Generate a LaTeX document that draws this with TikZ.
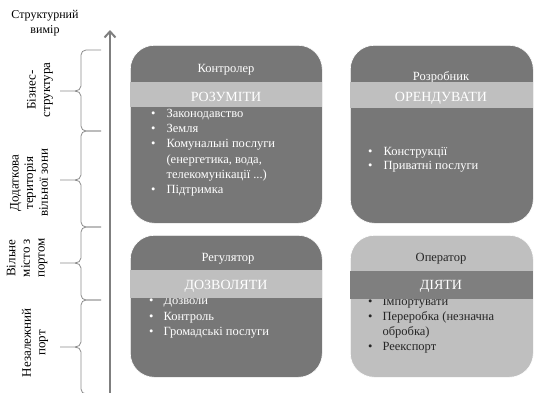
\documentclass[tikz,border=0pt]{standalone}
\usepackage{fontspec}
\setmainfont{Liberation Serif}
\usetikzlibrary{arrows.meta}
\definecolor{boxdark}{HTML}{777777}
\definecolor{boxlight}{HTML}{BFBFBF}
\definecolor{banddark}{HTML}{7F7F7F}
\definecolor{axisgray}{HTML}{7F7F7F}
\definecolor{bracegray}{HTML}{8C8C8C}
\definecolor{darktext}{HTML}{262626}
\begin{document}
\begin{tikzpicture}[x=1pt,y=-1pt,
  card/.style={rectangle, rounded corners=24pt, inner sep=0pt, anchor=north west, draw=white, line width=0.6pt},
  band/.style={rectangle, inner sep=0pt, anchor=north west},
  boxtitle/.style={anchor=base, inner sep=0pt, font=\fontsize{12.5}{15}\selectfont},
  bandtext/.style={anchor=base, inner sep=0pt, text=white, font=\fontsize{14}{16}\selectfont},
  blist/.style={anchor=base west, inner sep=0pt},
  sidelabel/.style={rotate=90, align=center, inner sep=0pt, font=\fontsize{13}{14.6}\selectfont},
  bracepath/.style={draw=bracegray, line width=0.8pt},
  axisline/.style={draw=axisgray, line width=2.4pt, -{Straight Barb[length=6pt,width=11pt,line width=2pt]}}
]
\useasboundingbox (0,0) rectangle (539,392);

% title of axis
\node[align=center, inner sep=0pt, font=\fontsize{12}{15}\selectfont] (axtitle) at (45,23) {Структурний\\вимір};

% axis
\coordinate (axb) at (110,395);
\coordinate (axt) at (110,30);
\draw[axisline] (axb) -- (axt);

% braces
\foreach \ya/\ym/\yb in {50/91/131, 131/180/227, 227/263/300, 300/347/394}{
  \draw[bracepath] (101,\ya) -- (86,\ya) to[out=180,in=90] (81,{\ya+5}) -- (81,{\ym-5})
     to[out=-90,in=0] (75,\ym) -- (60,\ym);
  \draw[bracepath] (75,\ym) to[out=0,in=90] (81,{\ym+5}) -- (81,{\yb-5})
     to[out=-90,in=180] (86,\yb) -- (101,\yb);
}

% side labels
\node[sidelabel] (l1) at (40,90) {Бізнес-\\структура};
\node[sidelabel] (l2) at (29,183) {Додаткова\\територія\\вільної зони};
\node[sidelabel] (l3) at (27,258) {Вільне\\місто з\\портом};
\node[sidelabel] (l4) at (35,343) {Незалежний\\порт};

% ---- box 1: Контролер
\node[card, fill=boxdark, minimum width=192pt, minimum height=178pt] (b1) at (130,45) {};
\node[boxtitle, text=white] (b1t) at (226,72) {Контролер};
\node[blist, text=white] (b1l) at (151,117.5) {\fontsize{12.5}{15.2}\selectfont
  \begin{tabular}[t]{@{}l@{\hspace{11pt}}l@{}}
  \textbullet & Законодавство\\
  \textbullet & Земля\\
  \textbullet & Комунальні послуги\\
   & (енергетика, вода,\\
   & телекомунікації ...)\\
  \textbullet & Підтримка
  \end{tabular}};
\node[band, fill=boxlight, minimum width=192pt, minimum height=25pt] (b1b) at (130,82) {};
\node[bandtext] (b1bt) at (226,101) {РОЗУМІТИ};

% ---- box 2: Розробник
\node[card, fill=boxdark, minimum width=183pt, minimum height=178pt] (b2) at (350,45) {};
\node[boxtitle, text=white] (b2t) at (441,80.5) {Розробник};
\node[band, fill=boxlight, minimum width=183pt, minimum height=26pt] (b2b) at (350,82) {};
\node[bandtext] (b2bt) at (441,101) {ОРЕНДУВАТИ};
\node[blist, text=white] (b2l) at (368,155.5) {\fontsize{12.5}{14}\selectfont
  \begin{tabular}[t]{@{}l@{\hspace{11pt}}l@{}}
  \textbullet & Конструкції\\
  \textbullet & Приватні послуги
  \end{tabular}};

% ---- box 3: Регулятор
\node[card, fill=boxdark, minimum width=192pt, minimum height=142pt] (b3) at (130,235) {};
\node[boxtitle, text=white] (b3t) at (228,261) {Регулятор};
\node[blist, text=white] (b3l) at (149,304.5) {\fontsize{12.5}{15.5}\selectfont
  \begin{tabular}[t]{@{}l@{\hspace{10pt}}l@{}}
  \textbullet & Дозволи\\
  \textbullet & Контроль\\
  \textbullet & Громадські послуги
  \end{tabular}};
\node[band, fill=boxlight, minimum width=192pt, minimum height=28pt] (b3b) at (130,270) {};
\node[bandtext] (b3bt) at (226,289.5) {ДОЗВОЛЯТИ};

% ---- box 4: Оператор
\node[card, fill=boxlight, minimum width=183pt, minimum height=142pt] (b4) at (350,235) {};
\node[boxtitle, text=darktext] (b4t) at (441,261) {Оператор};
\node[blist, text=darktext] (b4l) at (368,305.5) {\fontsize{12.5}{15}\selectfont
  \begin{tabular}[t]{@{}l@{\hspace{10pt}}l@{}}
  \textbullet & Імпортувати\\
  \textbullet & Переробка (незначна\\
   & обробка)\\
  \textbullet & Реекспорт
  \end{tabular}};
\node[band, fill=banddark, minimum width=183pt, minimum height=28pt] (b4b) at (350,271) {};
\node[bandtext] (b4bt) at (441,289.5) {ДІЯТИ};
\end{tikzpicture}
\end{document}
